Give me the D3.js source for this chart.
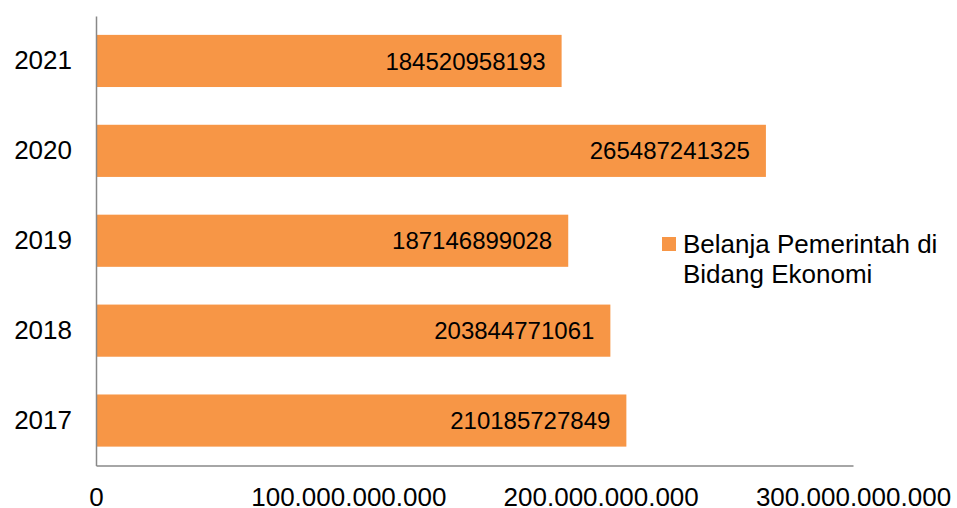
<!DOCTYPE html>
<html><head><meta charset="utf-8">
<script src="https://cdn.jsdelivr.net/npm/d3@7"></script>
<style>body{margin:0;background:#fff;}svg{display:block;font-family:"Liberation Sans",Arial,sans-serif;}</style>
</head><body>
<svg id="c" width="957" height="508"></svg>
<script>
const years = ["2021","2020","2019","2018","2017"];
const values = [184520958193, 265487241325, 187146899028, 203844771061, 210185727849];
const xTicks = [0, 100000000000, 200000000000, 300000000000];
const seriesName = ["Belanja Pemerintah di", "Bidang Ekonomi"];

(function(){
const svg = d3.select("#c");
const mL = 96, mR = 853, mT = 16, mB = 465.5;
const color = "#F79646";
const x = d3.scaleLinear().domain([0, 300000000000]).range([mL, mR]);
const y = d3.scaleBand().domain(years).range([mT, mB]).paddingInner(0.42).paddingOuter(0.21);

const fmt = v => v === 0 ? "0" : d3.format(",")(v).replace(/,/g, ".");

svg.selectAll("rect.bar").data(years).join("rect")
  .attr("class","bar")
  .attr("x", x(0)).attr("y", d => y(d))
  .attr("width", (d,i) => x(values[i]) - x(0))
  .attr("height", y.bandwidth()).attr("fill", color);

svg.selectAll("text.val").data(years).join("text")
  .attr("class","val")
  .attr("x", (d,i) => x(values[i]) - 16)
  .attr("y", d => y(d) + y.bandwidth()/2)
  .attr("dy","0.36em").attr("text-anchor","end")
  .attr("font-size", 24).attr("fill","#000")
  .text((d,i) => values[i]);

const gx = svg.append("g").attr("transform", `translate(0,${mB})`)
  .call(d3.axisBottom(x).tickValues(xTicks).tickFormat(fmt).tickSize(0).tickPadding(22));
gx.select(".domain").attr("stroke","#888").attr("stroke-width",1.5);
gx.selectAll("text").attr("font-size",26).attr("fill","#000").attr("font-family","Liberation Sans, Arial, sans-serif");

const gy = svg.append("g").attr("transform", `translate(${mL},0)`)
  .call(d3.axisLeft(y).tickSize(0).tickPadding(24));
gy.select(".domain").attr("stroke","#888").attr("stroke-width",1.5);
gy.selectAll("text").attr("font-size",26).attr("fill","#000").attr("font-family","Liberation Sans, Arial, sans-serif");

const lg = svg.append("g");
lg.append("rect").attr("x",662).attr("y",237).attr("width",14).attr("height",14).attr("fill",color);
lg.selectAll("text").data(seriesName).join("text")
  .attr("x",683).attr("y",(d,i)=>253 + i*30)
  .attr("font-size",26).attr("fill","#000").text(d=>d);
})();
</script>
</body></html>
